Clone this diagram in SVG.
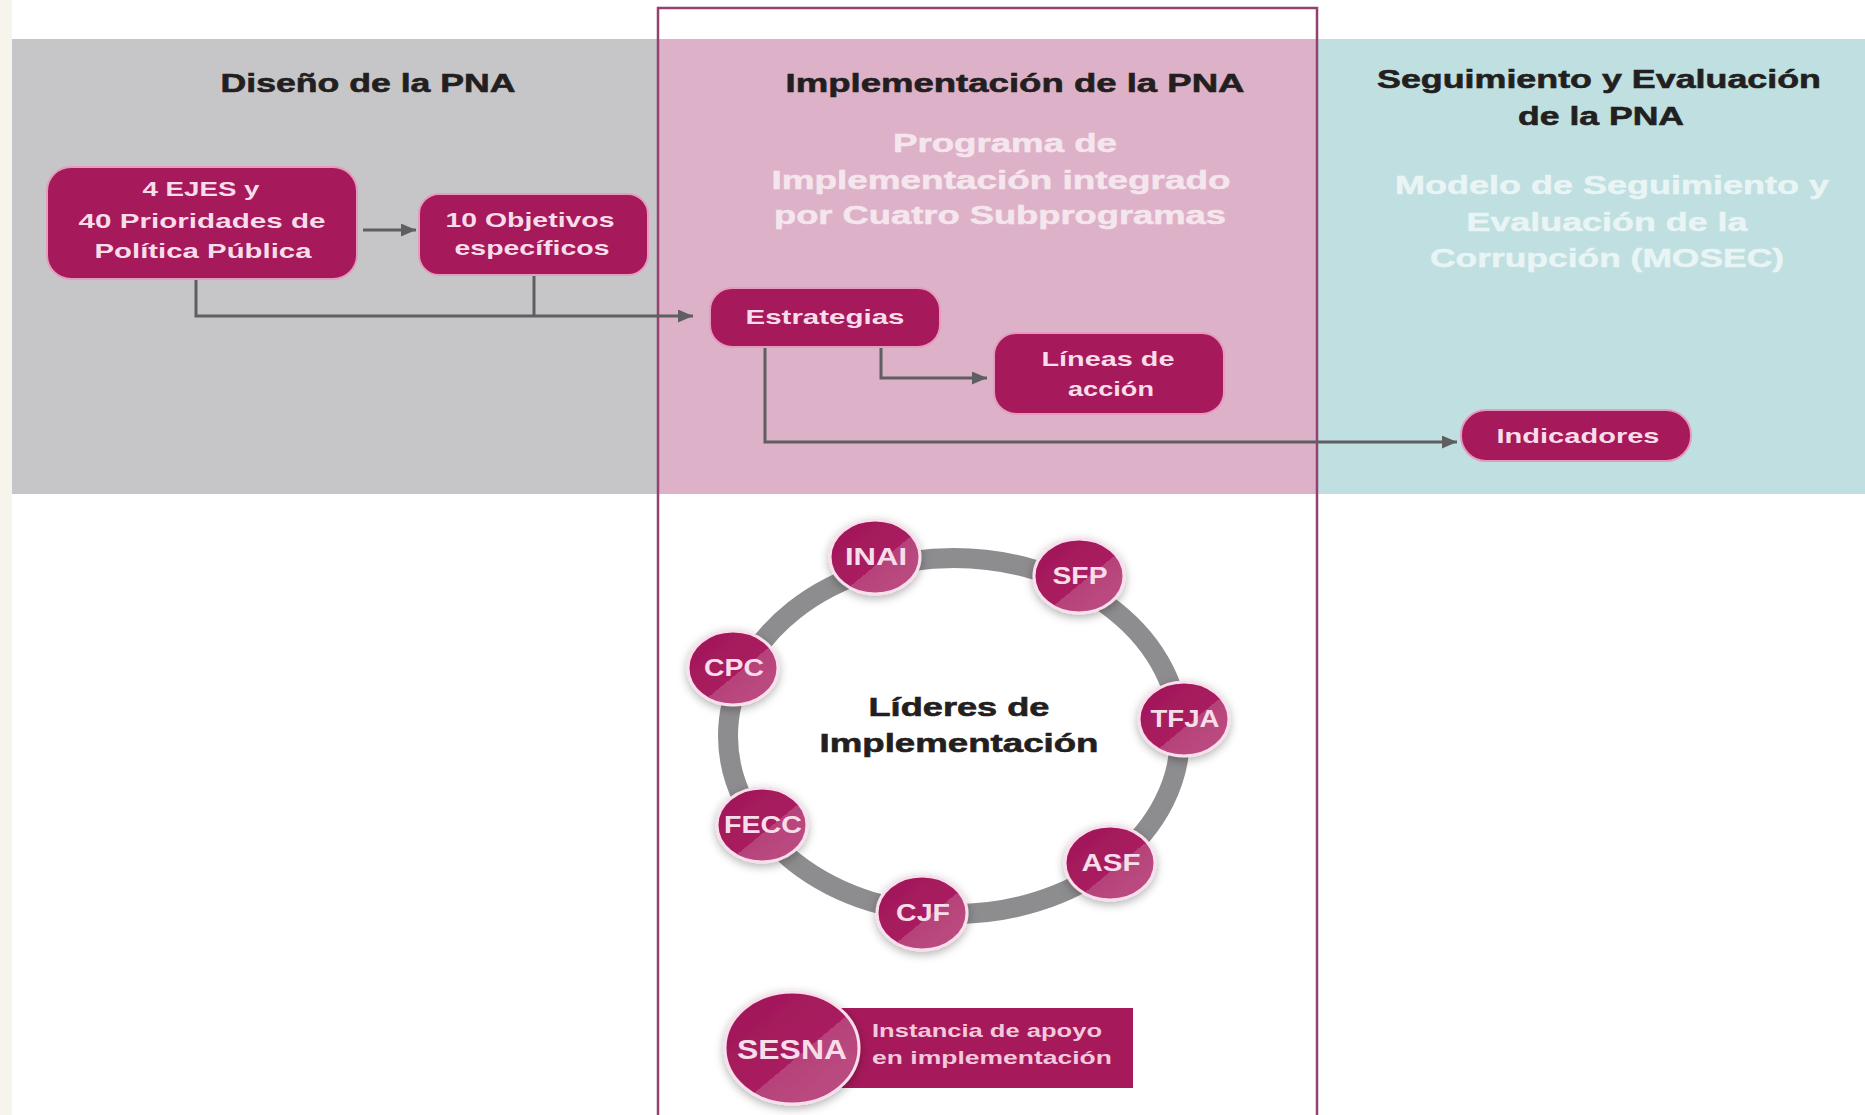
<svg xmlns="http://www.w3.org/2000/svg" width="1865" height="1115" viewBox="0 0 1865 1115">
<style>
text{font-family:"Liberation Sans",Arial,sans-serif;font-weight:bold;text-anchor:middle}
.title{font-size:26px;fill:#231f20;stroke:#231f20;stroke-width:0.6}
.sub1{font-size:25px;fill:#f5e6ee;stroke:#f5e6ee;stroke-width:0.5}
.sub2{font-size:25px;fill:#e9f4f5;stroke:#e9f4f5;stroke-width:0.5}
.box{fill:#a6195b;stroke:#e49bbd;stroke-width:2}
.nt{font-size:21px;fill:#f7dde9}
.cl{font-size:23px;fill:#f7dde9}
.circ{fill:url(#cg);stroke:#f8dfeb;stroke-width:3;filter:url(#sh)}
.conn{fill:none;stroke:#5f5f62;stroke-width:3}
</style>
<defs>
<marker id="ah" markerUnits="userSpaceOnUse" markerWidth="15" markerHeight="13" refX="15" refY="6.5" orient="auto">
<path d="M0,0 L15,6.5 L0,13 z" fill="#5f5f62"/>
</marker>
<linearGradient id="cg" x1="0" y1="0" x2="1" y2="1">
<stop offset="0" stop-color="#9f1658"/>
<stop offset="0.56" stop-color="#a91d5f"/>
<stop offset="0.56" stop-color="#b6427a"/>
<stop offset="1" stop-color="#bd5083"/>
</linearGradient>
<filter id="sh" x="-30%" y="-30%" width="160%" height="160%">
<feDropShadow dx="0" dy="3" stdDeviation="5" flood-color="#000" flood-opacity="0.3"/>
</filter>
</defs>
<rect x="0" y="0" width="1865" height="1115" fill="#ffffff"/>
<rect x="0" y="0" width="12" height="1115" fill="#f7f4ec"/>
<g id="bands">
<rect x="12" y="39" width="646" height="455" fill="#c6c6c8"/>
<rect x="658" y="39" width="659" height="455" fill="#ddb1c8"/>
<rect x="1317" y="39" width="548" height="455" fill="#bfdfe1"/>
<path d="M658,1115 V8 H1317 V1115" fill="none" stroke="#93426f" stroke-width="2.5"/>
</g>
<g id="titles">
<text class="title" x="368" y="92" textLength="295" lengthAdjust="spacingAndGlyphs">Diseño de la PNA</text>
<text class="title" x="1015" y="92" textLength="459" lengthAdjust="spacingAndGlyphs">Implementación de la PNA</text>
<text class="title" x="1599" y="88" textLength="444" lengthAdjust="spacingAndGlyphs">Seguimiento y Evaluación</text>
<text class="title" x="1601" y="125" textLength="166" lengthAdjust="spacingAndGlyphs">de la PNA</text>
<text class="sub1" x="1005" y="152" textLength="224" lengthAdjust="spacingAndGlyphs">Programa de</text>
<text class="sub1" x="1001" y="189" textLength="459" lengthAdjust="spacingAndGlyphs">Implementación integrado</text>
<text class="sub1" x="1000" y="224" textLength="452" lengthAdjust="spacingAndGlyphs">por Cuatro Subprogramas</text>
<text class="sub2" x="1612" y="194" textLength="434" lengthAdjust="spacingAndGlyphs">Modelo de Seguimiento y</text>
<text class="sub2" x="1607" y="231" textLength="281" lengthAdjust="spacingAndGlyphs">Evaluación de la</text>
<text class="sub2" x="1607" y="267" textLength="354" lengthAdjust="spacingAndGlyphs">Corrupción (MOSEC)</text>
</g>
<g id="connectors">
<path class="conn" d="M363,230 H416" marker-end="url(#ah)"/>
<path class="conn" d="M196,280 V316 H693" marker-end="url(#ah)"/>
<path class="conn" d="M534,275 V316"/>
<path class="conn" d="M881,347 V378 H987" marker-end="url(#ah)"/>
<path class="conn" d="M765,347 V442 H1457" marker-end="url(#ah)"/>
</g>
<g id="node-ejes">
<rect class="box" x="47" y="167" width="310" height="112" rx="24"/>
<text class="nt" x="201" y="196" textLength="117" lengthAdjust="spacingAndGlyphs">4 EJES y</text>
<text class="nt" x="202" y="228" textLength="247" lengthAdjust="spacingAndGlyphs">40 Prioridades de</text>
<text class="nt" x="203" y="258" textLength="217" lengthAdjust="spacingAndGlyphs">Política Pública</text>
</g>
<g id="node-objetivos">
<rect class="box" x="419" y="194" width="229" height="81" rx="20"/>
<text class="nt" x="530" y="227" textLength="169" lengthAdjust="spacingAndGlyphs">10 Objetivos</text>
<text class="nt" x="532" y="255" textLength="155" lengthAdjust="spacingAndGlyphs">específicos</text>
</g>
<g id="node-estrategias">
<rect class="box" x="710" y="288" width="230" height="59" rx="22"/>
<text class="nt" x="825" y="324" textLength="159" lengthAdjust="spacingAndGlyphs">Estrategias</text>
</g>
<g id="node-lineas">
<rect class="box" x="994" y="333" width="230" height="81" rx="22"/>
<text class="nt" x="1108" y="366" textLength="133" lengthAdjust="spacingAndGlyphs">Líneas de</text>
<text class="nt" x="1111" y="396" textLength="86" lengthAdjust="spacingAndGlyphs">acción</text>
</g>
<g id="node-indicadores">
<rect class="box" x="1461" y="410" width="230" height="51" rx="25"/>
<text class="nt" x="1578" y="443" textLength="163" lengthAdjust="spacingAndGlyphs">Indicadores</text>
</g>
<g id="ring">
<ellipse cx="954" cy="736" rx="226" ry="178" fill="none" stroke="#8d8d8f" stroke-width="20"/>
<text class="title" x="959" y="716" textLength="181" lengthAdjust="spacingAndGlyphs">Líderes de</text>
<text class="title" x="959" y="752" textLength="279" lengthAdjust="spacingAndGlyphs">Implementación</text>
</g>
<g id="node-inai">
<ellipse class="circ" cx="875" cy="557" rx="45" ry="37"/>
<text class="cl" x="876" y="565" textLength="62" lengthAdjust="spacingAndGlyphs">INAI</text>
</g>
<g id="node-sfp">
<ellipse class="circ" cx="1079" cy="576" rx="45" ry="37"/>
<text class="cl" x="1080" y="584" textLength="55" lengthAdjust="spacingAndGlyphs">SFP</text>
</g>
<g id="node-cpc">
<ellipse class="circ" cx="733" cy="668" rx="45" ry="37"/>
<text class="cl" x="734" y="676" textLength="60" lengthAdjust="spacingAndGlyphs">CPC</text>
</g>
<g id="node-tfja">
<ellipse class="circ" cx="1184" cy="719" rx="45" ry="37"/>
<text class="cl" x="1185" y="727" textLength="69" lengthAdjust="spacingAndGlyphs">TFJA</text>
</g>
<g id="node-fecc">
<ellipse class="circ" cx="762" cy="825" rx="45" ry="37"/>
<text class="cl" x="763" y="833" textLength="78" lengthAdjust="spacingAndGlyphs">FECC</text>
</g>
<g id="node-asf">
<ellipse class="circ" cx="1110" cy="863" rx="45" ry="37"/>
<text class="cl" x="1111" y="871" textLength="59" lengthAdjust="spacingAndGlyphs">ASF</text>
</g>
<g id="node-cjf">
<ellipse class="circ" cx="922" cy="913" rx="45" ry="37"/>
<text class="cl" x="923" y="921" textLength="54" lengthAdjust="spacingAndGlyphs">CJF</text>
</g>
<g id="node-sesna">
<rect x="800" y="1008" width="333" height="80" fill="#a6195b"/>
<ellipse class="circ" cx="792" cy="1048" rx="67" ry="56"/>
<text x="792" y="1059" style="font-size:27px;fill:#f7dde9" textLength="110" lengthAdjust="spacingAndGlyphs">SESNA</text>
<text x="872" y="1037" style="font-size:19px;fill:#f2c9dc;text-anchor:start" textLength="230" lengthAdjust="spacingAndGlyphs">Instancia de apoyo</text>
<text x="872" y="1064" style="font-size:19px;fill:#f2c9dc;text-anchor:start" textLength="240" lengthAdjust="spacingAndGlyphs">en implementación</text>
</g>
</svg>
